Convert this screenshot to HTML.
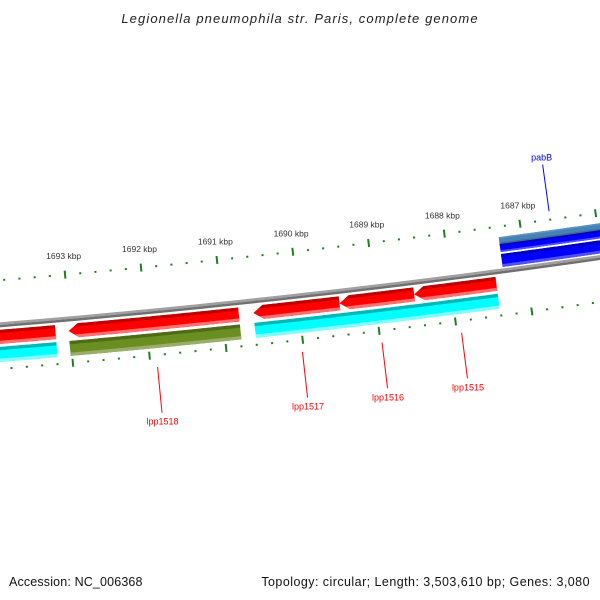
<!DOCTYPE html>
<html><head><meta charset="utf-8"><style>
html,body{margin:0;padding:0;background:#fff;}
svg{display:block;}
text{font-family:"Liberation Sans",sans-serif;}
</style></head><body>
<svg id="map" width="600" height="600" viewBox="0 0 600 600" xmlns="http://www.w3.org/2000/svg">
<rect width="600" height="600" fill="#fff"/>
<text x="300" y="23" text-anchor="middle" font-size="13" font-style="italic" letter-spacing="1.1" fill="#222">Legionella pneumophila str. Paris, complete genome</text>
<text x="9" y="586" font-size="12.5" letter-spacing="0.15" fill="#111">Accession: NC_006368</text>
<text x="590" y="586" text-anchor="end" font-size="12.5" letter-spacing="0.45" fill="#111">Topology: circular; Length: 3,503,610 bp; Genes: 3,080</text>
<defs id="defs"></defs>
<g id="layer"></g>
</svg>
<script>
// data
const tickKbp = [1693, 1692, 1691, 1690, 1689, 1688, 1687];
const geneNames = ["lpp1519", "lpp1518", "lpp1517", "lpp1516", "lpp1515"];
const geneStarts = [1693190, 1690790, 1689470, 1688490, 1687410];
const geneEnds = [1694600, 1693020, 1690600, 1689470, 1688490];
const cdsStarts = [1693190, 1690790, 1689470, 1687410];
const cdsEnds = [1694600, 1693020, 1690600, 1689470];
const cdsKinds = ["cyan", "olive", "cyan", "cyan"];
const fwdStart = 1685000, fwdEnd = 1687300;
const labelGenes = ["lpp1518", "lpp1517", "lpp1516", "lpp1515"];
const labelBp = [1691910, 1690020, 1688980, 1687940];
const pabBLabelBp = 1686600;

const NS = "http://www.w3.org/2000/svg";
const cx = -814, cy = -9642, R0 = 10000;
const phi0 = Math.atan2(9916.1, 879);
const k = 76.3 / 9955 / 1000;
function P(bp, d) {
  const f = phi0 + (bp - 1693000) * k, r = R0 + d;
  return [cx + r * Math.cos(f), cy + r * Math.sin(f)];
}
const layer = document.getElementById('layer');
const defs = document.getElementById('defs');
function mk(tag, attrs, parent) {
  const e = document.createElementNS(NS, tag);
  for (const a in attrs) e.setAttribute(a, attrs[a]);
  (parent || layer).appendChild(e);
  return e;
}
function arcPts(b1, b2, d) {
  const pts = [], n = 40;
  for (let i = 0; i <= n; i++) pts.push(P(b1 + (b2 - b1) * i / n, d));
  return pts;
}
function poly(pts) { return pts.map(p => p[0].toFixed(2) + ',' + p[1].toFixed(2)).join(' '); }
function shape(lo, hi, d1, d2, arrowHi) {
  const al = 130;
  const bodyHi = arrowHi ? hi - al : hi;
  let pts = arcPts(lo, bodyHi, d1);
  if (arrowHi) pts.push(P(hi, (d1 + d2) / 2));
  pts = pts.concat(arcPts(bodyHi, lo, d2));
  return pts;
}
let cid = 0;
function feature(lo, hi, d1, d2, arrowHi, main, dark, light, name) {
  const g = mk('g', {});
  
  
  const pts = shape(lo, hi, d1, d2, arrowHi);
  const id = 'c' + (cid++);
  const cp = mk('clipPath', { id: id }, defs);
  mk('polygon', { points: poly(pts) }, cp);
  mk('polygon', { points: poly(pts), fill: main }, g);
  const t = (d2 - d1) * 0.22;
  mk('polygon', { points: poly(arcPts(lo - 50, hi + 50, d1 - 1).concat(arcPts(hi + 50, lo - 50, d1 + t))), fill: dark, 'clip-path': 'url(#' + id + ')' }, g);
  mk('polygon', { points: poly(arcPts(lo - 50, hi + 50, d2 - t).concat(arcPts(hi + 50, lo - 50, d2 + 1))), fill: light, 'clip-path': 'url(#' + id + ')' }, g);
}

// backbone
const bb = mk('g', {});


mk('polygon', { points: poly(arcPts(1685000, 1695500, -2.5).concat(arcPts(1695500, 1685000, 0))), fill: '#a0a0a0' }, bb);
mk('polygon', { points: poly(arcPts(1685000, 1695500, 0).concat(arcPts(1695500, 1685000, 2.5))), fill: '#707070' }, bb);

// ticks
const tk = mk('g', {});


for (let bp = 1685000; bp <= 1695000; bp += 200) {
  const major = bp % 1000 === 0;
  const o1 = major ? -48.5 : -45.5, o2 = major ? -40.5 : -43.5;
  const i1 = major ? 40 : 43, i2 = major ? 48 : 45;
  let a = P(bp, o1), b = P(bp, o2);
  mk('line', { x1: a[0], y1: a[1], x2: b[0], y2: b[1], stroke: '#1f7f1f', 'stroke-width': 2 }, tk);
  a = P(bp, i1); b = P(bp, i2);
  mk('line', { x1: a[0], y1: a[1], x2: b[0], y2: b[1], stroke: '#1f7f1f', 'stroke-width': 2 }, tk);
}
tickKbp.forEach(kb => {
  const p = P(kb * 1000, -60);
  const t = mk('text', { x: p[0], y: p[1], 'text-anchor': 'middle', 'font-size': '8.5', fill: '#333' });
  
  
  t.textContent = kb + ' kbp';
});

// reverse genes
geneStarts.forEach((s, i) => {
  feature(s, geneEnds[i], 5, 19, i > 0, '#ff0000', '#c00000', '#ff7070', 'gene-' + geneNames[i]);
});
// CDS track
cdsStarts.forEach((s, i) => {
  const kind = cdsKinds[i];
  const c = kind === 'olive' ? ['#6b8e23', '#4f6b18', '#9aae6a'] : ['#00ffff', '#00b8b8', '#80ffff'];
  feature(s, cdsEnds[i], 22, 37, false, c[0], c[1], c[2], 'cds-' + i);
});
// forward features
feature(fwdStart, fwdEnd, -34, -27, false, '#4682b4', '#5f93c0', '#3a6d96', 'pabB-steelblue');
feature(fwdStart, fwdEnd, -27, -19, false, '#0000ff', '#0000c0', '#5050ff', 'pabB-gene');
feature(fwdStart, fwdEnd, -17, -4, false, '#0000ff', '#0000c0', '#5050ff', 'pabB-cds');

// labels
labelGenes.forEach((n, i) => {
  const a = P(labelBp[i], 56), b = P(labelBp[i], 102);
  const l = mk('line', { x1: a[0], y1: a[1], x2: b[0], y2: b[1], stroke: '#ff0000', 'stroke-width': 1 });
  
  
  const t = mk('text', { x: b[0] + 0.5, y: b[1] + 12, 'text-anchor': 'middle', 'font-size': '9', fill: '#ff0000', 'font-family': '"Liberation Mono",monospace' });
  
  
  t.textContent = n;
});
(function () {
  const a = P(pabBLabelBp, -53), b = P(pabBLabelBp, -100);
  const l = mk('line', { x1: a[0], y1: a[1], x2: b[0], y2: b[1], stroke: '#0000ff', 'stroke-width': 1 });
  
  
  const t = mk('text', { x: b[0] - 1, y: b[1] - 4, 'text-anchor': 'middle', 'font-size': '9', fill: '#0000ff', 'font-family': '"Liberation Mono",monospace' });
  
  
  t.textContent = 'pabB';
})();
</script>
</body></html>
